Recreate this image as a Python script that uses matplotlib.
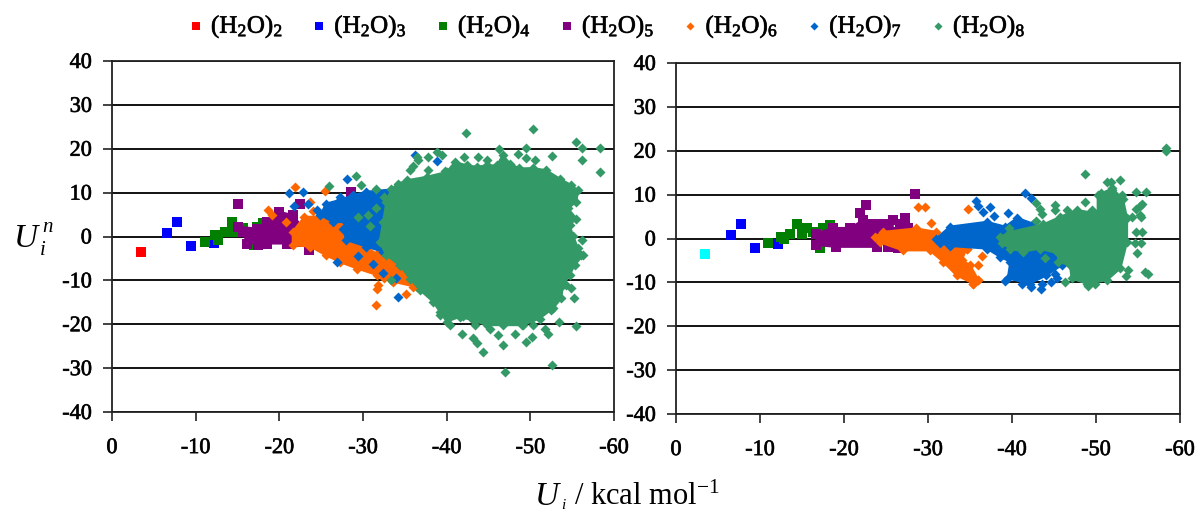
import matplotlib

matplotlib.use("Agg")

import matplotlib.patheffects as pe
import matplotlib.pyplot as plt
import numpy as np

plt.rcParams["font.family"] = ["Liberation Serif", "DejaVu Serif"]
plt.rcParams["mathtext.fontset"] = "custom"
plt.rcParams["mathtext.rm"] = "Liberation Serif"
plt.rcParams["mathtext.it"] = "Liberation Serif:italic"
plt.rcParams["axes.unicode_minus"] = False

WIDTH, HEIGHT = 1197, 510

names = ["2", "3", "4", "5", "6", "7", "8"]
colors = ["#ff0000", "#0000ff", "#007f00", "#800080", "#ff6600", "#0066cc", "#339966"]
markers = ["s", "s", "s", "s", "D", "D", "D"]
x_ticks = [0, -10, -20, -30, -40, -50, -60]
y_ticks = [40, 30, 20, 10, 0, -10, -20, -30, -40]

# single points, (U_i, U_i^n)
left_dimer = [(-3.5, -3.5)]
left_trimer = [(-6.6, 0.7), (-7.8, 3.3), (-9.4, -2.1), (-12.2, -1.4)]
left_tetramer = [
    (-11.1, -1.2), (-12.7, 0), (-12.3, 0.3), (-12.7, -0.7), (-13.5, 1), (-14.5, 1.1), (-14.4, 3.3),
    (-15.3, 1.4), (-15.7, 1.9), (-17.3, 2.2), (-18, 3), (-17, -2),
]
left_pentamer = [
    (-15.1, 7.5), (-22.5, 7.5), (-28.6, 10.2), (-23.5, -3.1), (-25, -2), (-17.5, -2), (-26.7, 4.7),
]
left_hexamer = [
    (-21.9, 11.3), (-25.5, 10.4), (-18.6, 6), (-19.1, 4.9), (-23.7, 7.9), (-28.5, -0.8), (-31.8, -11),
    (-31.6, -15.6), (-20.8, 3.4), (-24, 5.7), (-35.1, -13), (-36, -11.4), (-34.4, -6.6), (-32.5, -9.5),
    (-31.7, -12),
]
left_heptamer = [
    (-21.1, 10), (-22.8, 10.2), (-28.1, 13.2), (-27.2, 9), (-23.4, 7.5), (-21.7, 6.9), (-26.9, -5.8),
    (-29.4, -4.4), (-34.2, -13.7), (-32.4, -8.3), (-31.2, -6.2), (-36.2, 18.5), (-38.9, 17.3), (-34, -9.5),
    (-24.5, 6), (-26, 5),
]
left_octamer = [
    (-29.2, 13.7), (-29.8, 11.8), (-25.9, 11.4), (-33.4, -9.9), (-29.4, 4.5), (-30.6, 5), (-30.8, 2.5),
    (-31.6, 10.9), (-32.5, 9), (-31.5, 6.5),
    (-42.3, 23.7), (-50.3, 24.4), (-55.4, 21.6), (-56.2, 20.2), (-58.3, 20.2), (-56.2, 17.5), (-58.3, 14.7),
    (-49.5, 20.2), (-46.2, 19.9), (-48.5, 18.9), (-49.5, 17.9), (-50.5, 17.5), (-52.6, 18.4), (-43.8, 18.1),
    (-42.1, 18.1), (-44.8, 17.5), (-38.9, 19.3), (-39.4, 18.5), (-37.8, 18.1), (-36.4, 18.1), (-36.6, 17.5),
    (-35.6, 15.1), (-36, 16), (-37.8, 15.1), (-39.8, 15),
    (-41.8, -22.2), (-43.1, -23.2), (-43.6, -24.2), (-44.3, -26.4), (-47, -30.8), (-52.6, -29.2), (-46.7, -24.8),
    (-46.1, -22.5), (-48.2, -22.2), (-50.2, -22.9), (-49.5, -24), (-52.1, -22.2), (-51.7, -21), (-53.4, -19.4),
    (-55.5, -20.3), (-55.2, -14), (-54.9, -11.7), (-54.3, -11.1), (-56.2, -0.8), (-56.1, -4.3), (-43.4, -20.2),
    (-40.4, -20.2), (-39.2, -17.9), (-52.5, -16.8), (-41.9, -18.2), (-49, -20.2), (-50.3, -20.2), (-45.2, -21),
]

# outlines of the parts where the markers merge into a solid area
left_pentamer_area = [
    (-15.1, 2.2), (-17.3, 1.8), (-18.5, 3.3), (-20, 5.6), (-21.6, 4.9), (-22.8, 2), (-22.5, -1.2),
    (-20.9, -1.6), (-18.5, -1.6), (-16.1, -1.6), (-15.7, 1.1),
]
left_hexamer_area = [
    (-21.6, 1.1), (-23, 4.5), (-25, 4.5), (-27.6, 3), (-27.8, 0), (-30, -2), (-31.7, -4),
    (-34.4, -5.5), (-36, -9), (-36.4, -11.5), (-33.6, -10.3), (-31.7, -8.8), (-29.3, -7.3), (-27.2, -5.8),
    (-25.6, -4.3), (-23.7, -2.3), (-21.6, -2),
]
left_heptamer_area = [
    (-24.9, 4.9), (-25.6, 7.5), (-27.2, 8.3), (-28.8, 9.4), (-30.4, 10.2), (-34.4, 10.9), (-34.4, -6.5),
    (-32.4, -3.5), (-30.4, -2.3), (-28, -0.8), (-27.6, 1.8), (-28, 3.3), (-26.4, 3.3),
]
left_octamer_area = [
    (-35.2, 12.8), (-37.6, 13.6), (-40, 14.7), (-41, 17), (-42.4, 16.2), (-43.6, 15.9), (-44.8, 16.2),
    (-46, 16.2), (-46.7, 18.5), (-47.6, 16.6), (-48.7, 15.5), (-50.3, 15.6), (-51.9, 15.1), (-53.5, 13.2),
    (-54.9, 11.7), (-55.7, 10.5), (-55.5, 7.9), (-54.5, 6.4), (-55.5, 4.1), (-54.7, 2.6), (-55.1, 0.2),
    (-55.7, -2.7), (-56.3, -4.3), (-55.3, -6.5), (-54.7, -8.8), (-53.9, -11.1), (-53.7, -14.1), (-52.7, -16.4),
    (-51.1, -18.7), (-49.1, -20.2), (-46.7, -20.2), (-44.8, -20.2), (-43.1, -19.1), (-41.6, -18.3), (-40, -19.4),
    (-39.2, -17.2), (-38.4, -14.9), (-36.8, -12.2), (-35.6, -9.6), (-34.4, -6.5), (-32.8, -4.3), (-32, -1.2),
    (-32.4, 3.3), (-32.8, 7.9), (-33.4, 10.9), (-34.2, 12),
]

# right panel
right_dimer = [(-3.5, -3.5)]
right_trimer = [(-6.5, 0.7), (-7.7, 3.4), (-9.4, -2.1), (-12.2, -1.2)]
right_tetramer = [
    (-11, -1.1), (-12.5, 0.4), (-12.8, -0.2), (-13.6, 1.1), (-14.4, 3.3), (-15, 1.1), (-15.6, 2.3),
    (-16.3, 1.5), (-17.5, 2.3), (-18.3, 3), (-17.1, -2.1),
]
right_pentamer = [
    (-28.5, 10.2), (-22.6, 7.6), (-21.9, 5.7), (-27.3, 4.7), (-26.7, 3.4), (-25.2, -2), (-26.4, -2.1),
    (-27.6, 2.4), (-26.3, 1),
]
right_hexamer = [
    (-28.8, 7.2), (-29.6, 7.2), (-30.4, 3.6), (-34.8, 6.8), (-34.6, -2.3), (-34.2, -7.6), (-36, -9.5),
    (-35.4, -10.3), (-36, -6.1), (-36.4, -3.9), (-34.9, -8.6),
]
right_heptamer = [
    (-35.7, 8.5), (-35.9, 7.5), (-36.6, 6.1), (-37.4, 7.1), (-37.8, 5.2), (-39.5, 5.7), (-41.6, 10.3),
    (-42.3, 9.3), (-41.2, -10.3), (-42.3, -11), (-43.5, -11.6), (-43.6, -10.4), (-44.7, -9.9), (-45.3, -9.1),
    (-45.1, -8), (-39.2, -9.8),
]
right_octamer = [
    (-58.3, 20.7), (-58.3, 20), (-48.7, 14.7), (-51.3, 12.9), (-51.8, 12.9), (-52.9, 13.4), (-51.9, 11),
    (-54.8, 10.6), (-56, 10.6), (-50.6, 10.3), (-53.1, 10), (-48.7, 8.4), (-42.9, 8), (-43.3, 6.8),
    (-43.6, 5.6), (-45.1, 7.7), (-45.1, 6.4), (-46.5, 6.5), (-49.5, 6.5), (-55.2, 7.5), (-55.5, 7.9),
    (-54.8, 6.8), (-55.2, 5.4), (-54.3, 5), (-55.4, 4.8), (-54.8, 1.5), (-55.5, 1.5), (-54.6, -1),
    (-55.3, -1), (-54.9, -3.2), (-53.8, -7.2), (-53.6, -8.5), (-55.8, -7.6), (-56.2, -8.1), (-46.3, -9.9),
    (-49, -10.9), (-49.9, -10.3), (-43.9, -4.5), (-39.7, 2.5), (-42.8, 3.9),
]

right_pentamer_area = [
    (-16.7, 1.1), (-18.7, 2.4), (-20.7, 2.4), (-22.3, 4.2), (-25.8, 4.2), (-25.8, 1.4), (-23.9, -1.9),
    (-19.1, -1.9), (-16.7, -1.5),
]
right_hexamer_area = [
    (-23.7, 0.4), (-24.6, 1.5), (-28.6, 2.3), (-31, 1.5), (-31.6, -0.5), (-33, -1), (-34.6, -2.3),
    (-34, -5), (-35, -6), (-36, -9.5), (-35.4, -10.3), (-33.4, -8.4), (-31.8, -5.3), (-30.2, -2.7),
    (-27, -2.7), (-24.3, -0.9),
]
right_heptamer_area = [
    (-31, 0), (-32.6, 2.7), (-37, 3.8), (-39.2, 2.7), (-40.6, 4.7), (-42.5, 3.4), (-42.9, 1.5), (-45.3, -3.4),
    (-45.9, -6.1), (-44.1, -8.4), (-42.1, -10.3), (-39.5, -9.1), (-39.8, -5.3), (-38.6, -4.2), (-37, -2.3),
    (-32.6, -1.7), (-31.4, -1.1),
]
right_octamer_area = [
    (-38.6, 0.4), (-39.8, 1.5), (-43.7, 3.2), (-45.7, 4.9), (-47.7, 6.5), (-50.2, 5.7), (-50.2, 9.9),
    (-51.9, 11.4), (-53.2, 9.1), (-53.7, 4.6), (-53.7, -0.8), (-52.9, -6.8), (-51.3, -9.5), (-48.9, -10.3),
    (-47.1, -9.1), (-46.9, -6.1), (-45.5, -5.3), (-45.5, -3.4), (-43.3, -2.3), (-41.3, -3), (-39.8, -2.3),
    (-38.8, -1.1),
]

left_points = [left_dimer, left_trimer, left_tetramer, left_pentamer, left_hexamer, left_heptamer, left_octamer]
left_areas = [None, None, None, left_pentamer_area, left_hexamer_area, left_heptamer_area, left_octamer_area]
right_points = [right_dimer, right_trimer, right_tetramer, right_pentamer, right_hexamer, right_heptamer, right_octamer]
right_areas = [None, None, None, right_pentamer_area, right_hexamer_area, right_heptamer_area, right_octamer_area]

HEAVY = [pe.withStroke(linewidth=0.5, foreground="#1a1a1a")]


def draw_panel(ax, points, areas, first_color):
    handles = []
    for i, name in enumerate(names):
        color = first_color if i == 0 else colors[i]
        size = 48 if markers[i] == "s" else 26
        if areas[i] is not None:
            area = np.array(areas[i])
            ax.fill(area[:, 0], area[:, 1], color=color, linewidth=1.5, zorder=3 + i)
            ax.scatter(area[:, 0], area[:, 1], s=size, marker=markers[i], color=color, linewidths=0, zorder=3 + i)
        pts = np.array(points[i])
        handle = ax.scatter(pts[:, 0], pts[:, 1], s=size, marker=markers[i], color=color, linewidths=0,
                            zorder=3 + i, clip_on=False, label=f"(H$_{{\\mathrm{{2}}}}$O)$_{{\\mathrm{{{name}}}}}$")
        handles.append(handle)
    ax.set_xlim(0, -60)
    ax.set_ylim(-40, 40)
    ax.set_xticks(x_ticks)
    ax.set_yticks(y_ticks)
    ax.grid(axis="y", color="#111111", linewidth=1.4, zorder=1)
    ax.set_axisbelow(True)
    ax.tick_params(length=6.5, width=1.2, color="#222222", labelsize=16, pad=8)
    ax.tick_params(axis="x", pad=13)
    for label in ax.get_xticklabels() + ax.get_yticklabels():
        label.set_path_effects(HEAVY)
    for spine in ax.spines.values():
        spine.set_linewidth(1.3)
        spine.set_color("#222222")
    return handles


def main():
    fig = plt.figure(figsize=(WIDTH / 100, HEIGHT / 100), dpi=100)
    ax_left = fig.add_axes([112 / WIDTH, 1 - 413 / HEIGHT, 502 / WIDTH, 351 / HEIGHT])
    ax_right = fig.add_axes([676 / WIDTH, 1 - 415 / HEIGHT, 504 / WIDTH, 351 / HEIGHT])

    handles = draw_panel(ax_left, left_points, left_areas, colors[0])
    draw_panel(ax_right, right_points, right_areas, "#00ffff")

    legend = fig.legend(handles=handles, loc="upper center", bbox_to_anchor=(0.505, 1.006), ncols=7, frameon=False,
                        fontsize=18, handlelength=1.0, handletextpad=0.1, columnspacing=0.94, scatterpoints=1,
                        borderpad=0.2, markerscale=0.8)
    for text in legend.get_texts():
        text.set_path_effects(HEAVY)

    fig.text(13 / WIDTH, 1 - 247 / HEIGHT, r"$\mathit{U}$", fontsize=24, ha="left", va="baseline")
    fig.text(42 / WIDTH, 1 - 232 / HEIGHT, r"$\mathit{n}$", fontsize=15, ha="left", va="baseline")
    fig.text(39 / WIDTH, 1 - 255 / HEIGHT, r"$\mathit{i}$", fontsize=15, ha="left", va="baseline")

    fig.text(534 / WIDTH, 1 - 505 / HEIGHT, r"$\mathit{U}$", fontsize=24, ha="left", va="baseline")
    fig.text(561 / WIDTH, 1 - 509 / HEIGHT, r"$\mathit{i}$", fontsize=11, ha="left", va="baseline")
    fig.text(574 / WIDTH, 1 - 505 / HEIGHT, r"/ kcal mol$^{\mathrm{-1}}$", fontsize=22, ha="left", va="baseline")

    fig.savefig("out.png", dpi=100)
    plt.close(fig)


if __name__ == "__main__":
    main()
